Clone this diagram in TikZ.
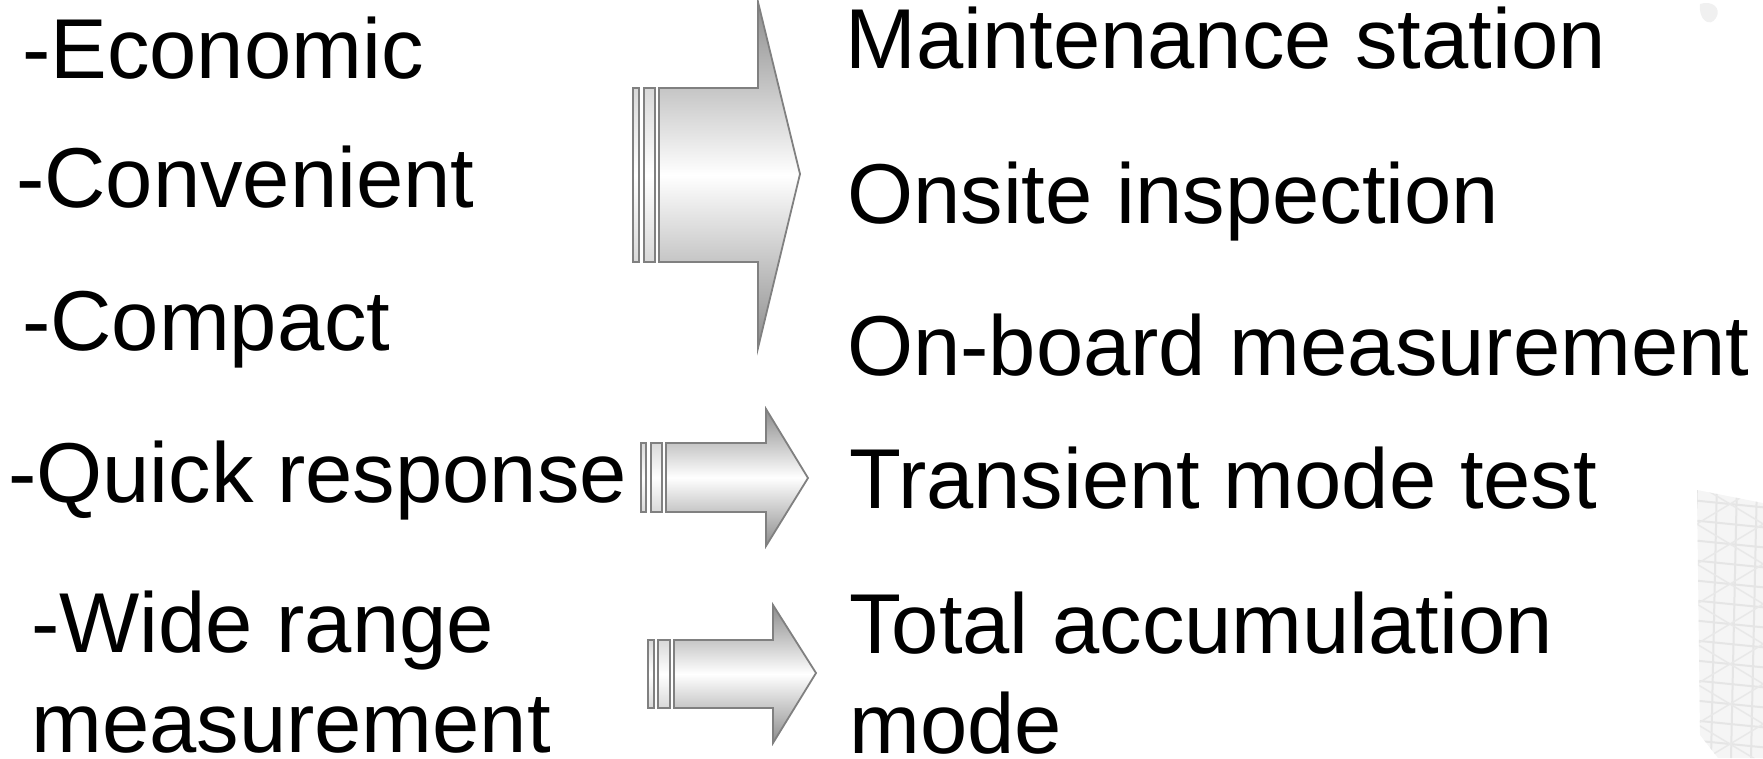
\documentclass[tikz,border=0pt]{standalone}
\usepackage{fontspec}
\setmainfont{Liberation Sans}
\usetikzlibrary{positioning}

\tikzset{
  etiq/.style={inner sep=0pt, anchor=base west, align=left,
    font=\fontsize{85}{100}\selectfont},
  flecha/.style={draw=black!50, line width=1.8pt, line join=miter,
    top color=black!45, bottom color=black!45, middle color=white},
  raya/.style={draw=black!50, line width=1.5pt,
    top color=black!15, bottom color=black!15, middle color=white}
}

\begin{document}
\begin{tikzpicture}[x=1pt, y=-1pt]
  \useasboundingbox (0,0) rectangle (1763,758);

  % motif de fond, bord droit
  \fill[black!6] (1700,4) .. controls (1712,0) and (1722,8) .. (1716,18)
    .. controls (1710,28) and (1698,20) .. (1700,4);
  \begin{scope}
    \clip (1697,490) -- (1763,503) -- (1763,758) -- (1718,758) -- (1700,735) -- cycle;
    \fill[black!4] (1690,480) rectangle (1763,758);
    \foreach \y in {480,500,...,760}
      \draw[black!10, line width=2pt] (1690,\y) -- (1770,\y+8);
    \foreach \x in {1697,1717,...,1777}
      \draw[black!10, line width=2pt] (\x,480) -- (\x-6,758);
    \foreach \y in {440,480,...,760} {
      \draw[black!9, line width=1.5pt] (1690,\y) -- (1770,\y+48);
      \draw[black!9, line width=1.5pt] (1690,\y+48) -- (1770,\y);
    }
  \end{scope}

  % textes de gauche
  \node[etiq] (eco)  at (22,78)  {-Economic};
  \node[etiq] (conv) at (16,207) {-Convenient};
  \node[etiq] (comp) at (22,350) {-Compact};
  \node[etiq] (quick) at (8,502) {-Quick response};
  \node[etiq] (wide) at (31,752) {-Wide range\\measurement};

  % textes de droite
  \node[etiq] (maint) at (845,68)  {Maintenance station};
  \node[etiq] (onsite) at (847,223) {Onsite inspection};
  \node[etiq] (board) at (847,375) {On-board measurement};
  \node[etiq] (trans) at (849,508) {Transient mode test};
  \node[etiq] (total) at (849,753) {Total accumulation\\mode};

  % grande flèche
  \draw[raya] (633,88) rectangle (639,262);
  \draw[raya] (644,88) rectangle (655,262);
  \draw[flecha] (659,88) -- (758,88) -- (758,2) -- (800,174) -- (758,348)
    -- (758,262) -- (659,262) -- cycle;

  % flèche du milieu
  \draw[raya] (641,443) rectangle (646,512);
  \draw[raya] (651,443) rectangle (662,512);
  \draw[flecha] (666,443) -- (766,443) -- (766,409) -- (808,478) -- (766,546)
    -- (766,512) -- (666,512) -- cycle;

  % flèche du bas
  \draw[raya] (648,640) rectangle (654,708);
  \draw[raya] (658,640) rectangle (670,708);
  \draw[flecha] (674,640) -- (773,640) -- (773,605) -- (816,673) -- (773,743)
    -- (773,708) -- (674,708) -- cycle;
\end{tikzpicture}
\end{document}
